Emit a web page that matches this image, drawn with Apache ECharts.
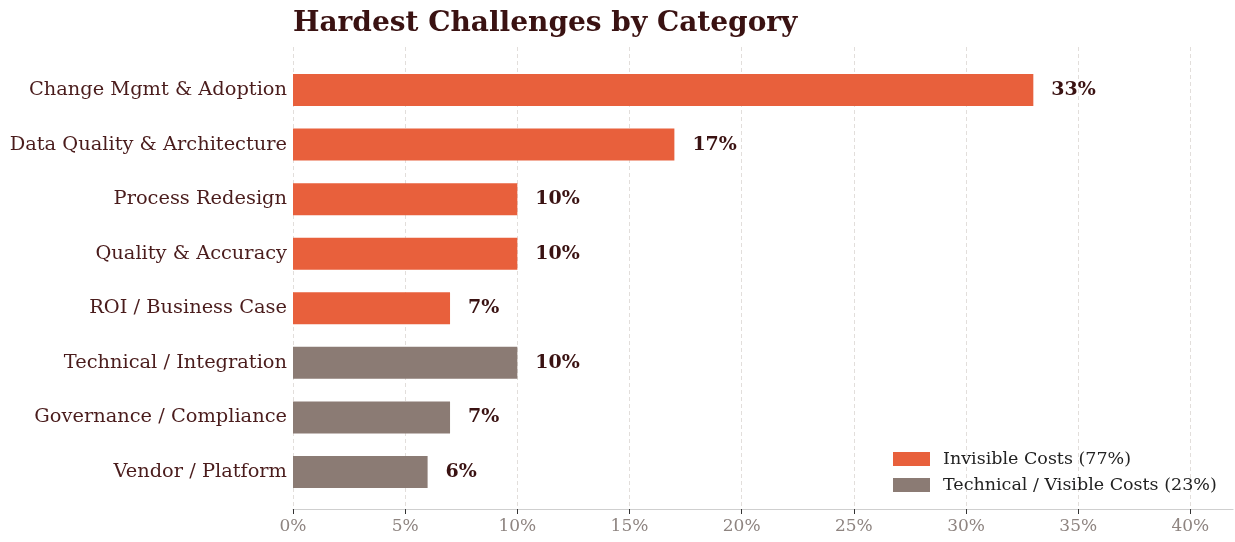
<!DOCTYPE html>
<html>
<head>
<meta charset="utf-8">
<script src="https://cdn.jsdelivr.net/npm/echarts@6/dist/echarts.min.js"></script>
<style>
  html, body { margin: 0; padding: 0; background: #ffffff; }
  #chart { width: 1235px; height: 542px; }
</style>
</head>
<body>
<div id="chart"></div>
<script>
// Challenge categories, top to bottom
const categories = [
  'Change Mgmt & Adoption',
  'Data Quality & Architecture',
  'Process Redesign',
  'Quality & Accuracy',
  'ROI / Business Case',
  'Technical / Integration',
  'Governance / Compliance',
  'Vendor / Platform'
];
// Share of respondents naming each category as hardest (%)
const shares = [33, 17, 10, 10, 7, 10, 7, 6];
// Which cost group each category belongs to
const groups = ['invisible', 'invisible', 'invisible', 'invisible', 'invisible', 'visible', 'visible', 'visible'];
const groupNames = { invisible: 'Invisible Costs (77%)', visible: 'Technical / Visible Costs (23%)' };
const tickValues = [0, 5, 10, 15, 20, 25, 30, 35, 40];

const colors = { invisible: '#E8603C', visible: '#8B7B74' };
const serif = "'DejaVu Serif', serif";

function seriesFor(group) {
  return {
    name: groupNames[group],
    type: 'bar',
    xAxisIndex: 0,
    yAxisIndex: 0,
    stack: 'all',
    barWidth: 32,
    itemStyle: { color: colors[group] },
    label: {
      show: true,
      position: 'right',
      distance: 18,
      formatter: p => p.value + '%',
      fontFamily: serif,
      fontWeight: 'bold',
      fontSize: 19,
      color: '#3A1212'
    },
    data: shares.map((v, i) => groups[i] === group ? v : null)
  };
}

const chart = echarts.init(document.getElementById('chart'));
chart.setOption({
  animation: false,
  backgroundColor: '#ffffff',
  title: {
    text: 'Hardest Challenges by Category',
    left: 288,
    top: 5,
    textStyle: { fontFamily: serif, fontWeight: 'bold', fontSize: 28, color: '#3A1212' }
  },
  legend: {
    orient: 'vertical',
    left: 888,
    top: 445,
    itemWidth: 37,
    itemHeight: 14,
    itemGap: 8,
    icon: 'rect',
    textStyle: { fontFamily: serif, fontSize: 17.5, color: '#222222', padding: [0, 0, 0, 8] },
    data: [groupNames.invisible, groupNames.visible]
  },
  grid: [
    { left: 293, right: 2, top: 62.7, bottom: 42.7 },
    { left: 293, right: 2, top: 47, bottom: 33 }
  ],
  xAxis: [
    { type: 'value', gridIndex: 0, min: 0, max: 41.9, show: false },
    {
      type: 'value', gridIndex: 1, min: 0, max: 41.9, interval: 5,
      axisLine: { show: true, lineStyle: { color: '#CFCFCF', width: 1.2 } },
      axisTick: { show: true, length: 5, customValues: tickValues, lineStyle: { color: '#333333' } },
      axisLabel: {
        customValues: tickValues,
        formatter: v => v + '%',
        fontFamily: serif,
        fontSize: 17,
        color: '#8E8480',
        margin: 9
      },
      splitLine: { show: true, lineStyle: { color: '#E2DEDB', type: [4, 3], width: 1 } }
    }
  ],
  yAxis: [
    {
      type: 'category', gridIndex: 0, inverse: true, data: categories,
      axisLine: { show: false }, axisTick: { show: false },
      axisLabel: { fontFamily: serif, fontSize: 19.4, color: '#4A1C1C', margin: 6, padding: [3, 0, 0, 0] }
    },
    { type: 'value', gridIndex: 1, show: false }
  ],
  series: [seriesFor('invisible'), seriesFor('visible')]
});
</script>
</body>
</html>
